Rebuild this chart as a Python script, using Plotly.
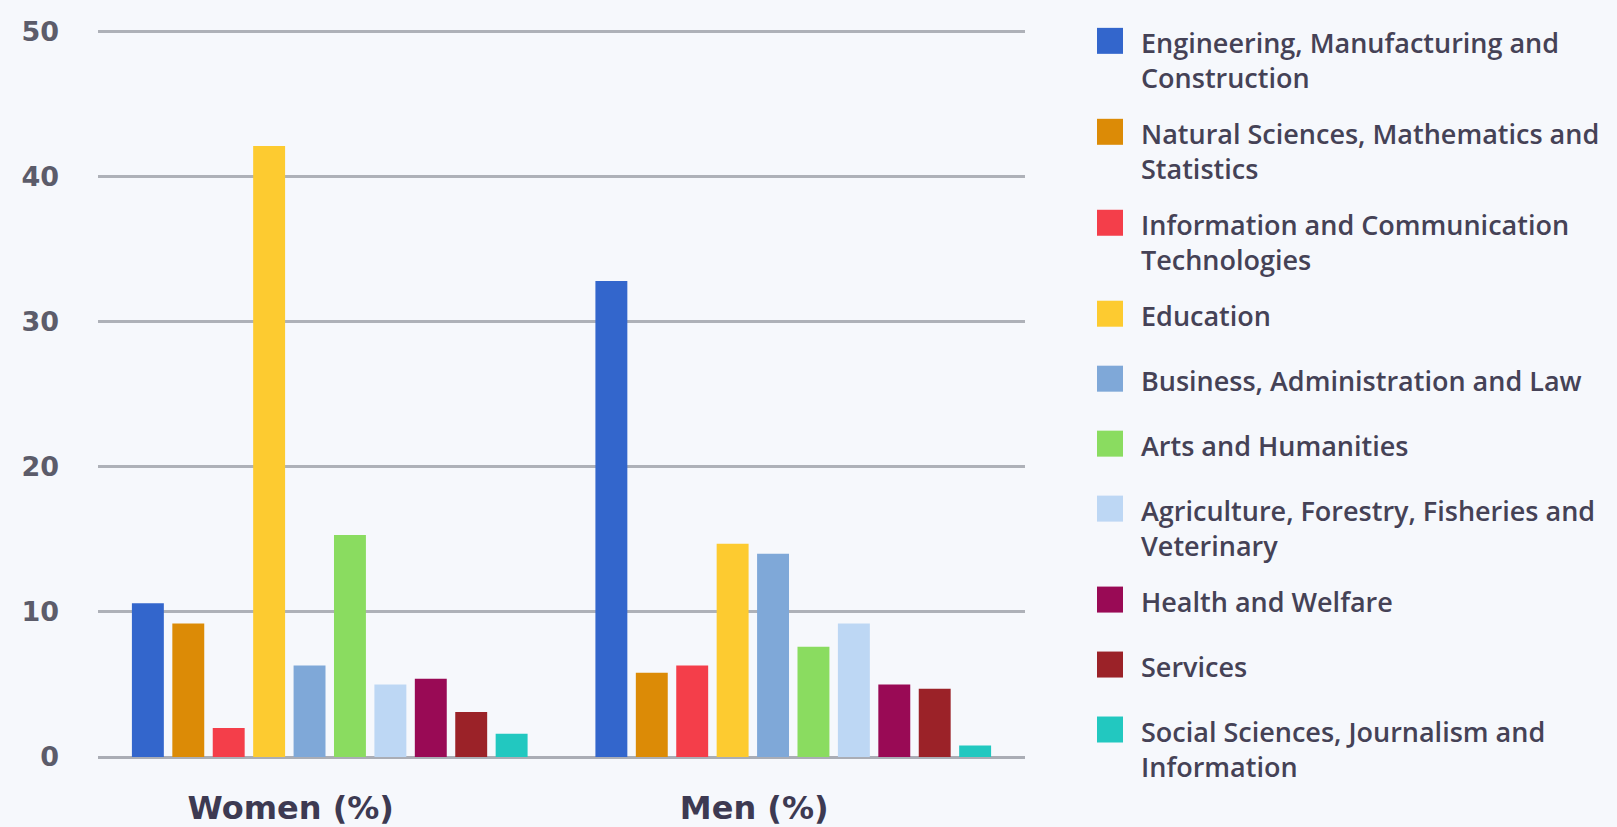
import plotly.graph_objects as go

# Share of graduates by field of study
groups = ["Women (%)", "Men (%)"]
fields = [
    "Engineering, Manufacturing and<br>Construction",
    "Natural Sciences, Mathematics and<br>Statistics",
    "Information and Communication<br>Technologies",
    "Education",
    "Business, Administration and Law",
    "Arts and Humanities",
    "Agriculture, Forestry, Fisheries and<br>Veterinary",
    "Health and Welfare",
    "Services",
    "Social Sciences, Journalism and<br>Information",
]
women = [10.6, 9.2, 2.0, 42.1, 6.3, 15.3, 5.0, 5.4, 3.1, 1.6]
men = [32.8, 5.8, 6.3, 14.7, 14.0, 7.6, 9.2, 5.0, 4.7, 0.8]
colors = [
    "#3366cc", "#dc8b06", "#f43e4a", "#fdcb30", "#7fa8d8",
    "#8adc60", "#bdd7f4", "#990a55", "#9b2228", "#22c8c0",
]
y_ticks = [0, 10, 20, 30, 40, 50]
y_max = 50.3

W, H = 1617, 827
PL, PR, PB = 98, 1025, 757          # plot area edges in pixels
PT = PB - (PB - 31) * y_max / 50     # top edge so that 50 sits at y=31
BG = "#f6f8fc"
TEXT = "#454256"


def px_x(px):
    return (px - PL) / (PR - PL)


def px_y(py):
    return (PB - py) / (PB - PT)


fig = go.Figure()
for name, col, w, m in zip(fields, colors, women, men):
    fig.add_trace(go.Bar(
        x=groups, y=[w, m], name=name.replace("<br>", " "),
        marker=dict(color=col, line=dict(width=0)),
        showlegend=False,
    ))

# Custom legend: large square swatches with wrapped labels
shapes, annotations = [], []
font_size = 27
line_h = 1.3 * font_size
cy = 40.5
for name, col in zip(fields, colors):
    n_lines = name.count("<br>") + 1
    shapes.append(dict(
        type="rect", xref="paper", yref="paper", layer="above",
        x0=px_x(1097), x1=px_x(1123), y0=px_y(cy + 13), y1=px_y(cy - 13),
        fillcolor=col, line=dict(width=0),
    ))
    annotations.append(dict(
        xref="paper", yref="paper", x=px_x(1140), y=px_y(cy - line_h / 2),
        xanchor="left", yanchor="top", align="left", showarrow=False,
        borderpad=0, text=name,
        font=dict(family="Open Sans", size=font_size, color=TEXT, weight=600),
    ))
    cy += 65 + 26 * (n_lines - 1)

fig.update_layout(
    width=W, height=H,
    margin=dict(l=PL, r=W - PR, t=PT, b=H - PB, pad=0, autoexpand=False),
    paper_bgcolor=BG, plot_bgcolor=BG,
    barmode="group", bargap=0.128, bargroupgap=0.21,
    shapes=shapes, annotations=annotations,
    xaxis=dict(
        showgrid=False, zeroline=False, showline=False, ticks="",
        automargin=False,
        tickfont=dict(family="DejaVu Sans", size=32, color="#3d3a52", weight="bold"),
        ticklabelshift=-39, ticklabelstandoff=29,
    ),
    yaxis=dict(
        range=[0, y_max], tickvals=y_ticks, showline=False, ticks="",
        automargin=False,
        gridcolor="#aeb1b8", gridwidth=3,
        zeroline=True, zerolinecolor="#aaadb5", zerolinewidth=3,
        tickfont=dict(family="DejaVu Sans", size=27, color="#5c5c6a", weight="bold"),
        ticklabelstandoff=38,
    ),
)

fig.write_html("out.html")
